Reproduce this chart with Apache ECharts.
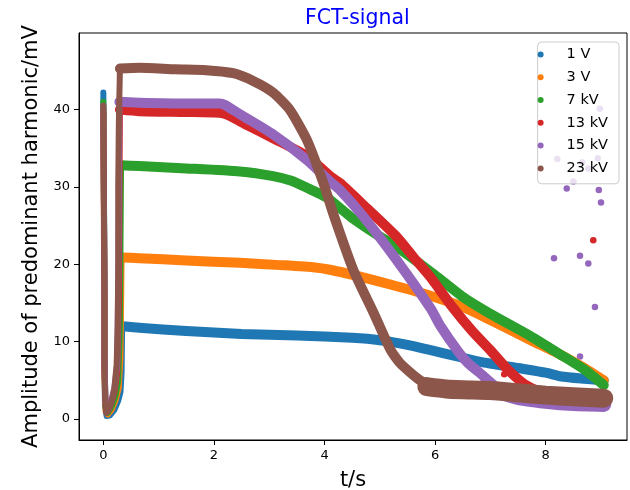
<!DOCTYPE html>
<html>
<head>
<meta charset="utf-8">
<title>FCT-signal</title>
<script src="https://cdn.jsdelivr.net/npm/echarts@6/dist/echarts.min.js"></script>
<style>
  html, body { margin: 0; padding: 0; background: #fff; }
  #chart { width: 630px; height: 490px; }
</style>
</head>
<body>
<div id="chart"></div>
<script>
// Series labels and colours
const seriesNames = ['1 V', '3 V', '7 kV', '13 kV', '15 kV', '23 kV'];
const seriesColors = ['#1f77b4', '#ff7f0e', '#2ca02c', '#d62728', '#9467bd', '#8c564b'];

// Tick positions
const xTicks = [0, 2, 4, 6, 8];
const yTicks = [0, 10, 20, 30, 40];

// Start-up transient [t/s, mV]: drop right after t = 0, recovery near t = 0.3 s
const rise1V  = [[0.0, 42.2], [0.01, 30], [0.02, 18], [0.02, 8], [0.03, 2], [0.06, 0.4], [0.12, 0.5], [0.2, 1.2], [0.27, 2.4], [0.31, 3.5], [0.33, 6], [0.34, 12.0]];
const rise3V  = [[0.0, 40.0], [0.01, 28], [0.02, 16], [0.02, 6], [0.04, 1], [0.08, 0.6], [0.15, 1.2], [0.22, 2.4], [0.28, 4], [0.31, 8], [0.32, 14], [0.33, 20.9]];
const rise7kV = [[0.0, 41.0], [0.01, 30], [0.02, 18], [0.02, 8], [0.04, 1.5], [0.08, 0.8], [0.15, 1.6], [0.22, 3], [0.27, 5], [0.3, 12], [0.31, 22], [0.32, 32.8]];
const rise13kV = [[0.0, 39.5], [0.01, 28], [0.02, 16], [0.02, 7], [0.04, 1.8], [0.08, 1.0], [0.14, 2], [0.2, 3.5], [0.25, 6], [0.28, 15], [0.29, 28], [0.3, 40.0]];
const rise15kV = [[0.0, 40.5], [0.01, 30], [0.02, 18], [0.02, 8], [0.04, 2], [0.08, 1.2], [0.14, 2.3], [0.2, 4], [0.25, 7], [0.27, 18], [0.28, 30], [0.29, 41.0]];
const rise23kV = [[0.0, 40.5], [0.01, 32], [0.01, 24], [0.02, 16], [0.02, 8], [0.03, 3], [0.05, 0.8], [0.1, 1.2], [0.15, 2.2], [0.2, 4], [0.24, 7], [0.26, 12], [0.27, 20], [0.27, 30], [0.28, 38], [0.3, 45.3]];

// Plateau and decay [t/s, mV]
const main1V = [[0.34, 12.0], [0.65, 11.8], [1.5, 11.4], [2.5, 11.0], [3.5, 10.8], [4.5, 10.5], [5.0, 10.2], [5.5, 9.6], [5.92, 8.9], [6.4, 8.1], [6.82, 7.4], [7.5, 6.6], [8.0, 6.0], [8.28, 5.5], [8.7, 5.2], [9.05, 5.0]];
const main3V = [[0.33, 20.9], [0.65, 20.8], [1.5, 20.5], [2.47, 20.2], [3.2, 19.9], [3.83, 19.6], [4.1, 19.3], [4.59, 18.5], [5.19, 17.4], [5.8, 16.2], [6.5, 14.5], [7.0, 12.8], [7.73, 10.2], [8.3, 8.2], [8.7, 6.6], [9.05, 5.0]];
const main7kV = [[0.32, 32.8], [0.65, 32.7], [1.5, 32.4], [2.47, 32.0], [3.07, 31.4], [3.4, 30.8], [3.68, 29.9], [4.05, 28.6], [4.5, 26.0], [5.0, 23.6], [5.3, 22.3], [6.0, 18.6], [6.5, 15.8], [7.0, 13.6], [7.73, 10.7], [8.3, 8.2], [8.7, 6.4], [9.05, 4.4]];
const main13kV = [[0.3, 40.0], [0.65, 39.8], [1.5, 39.7], [2.1, 39.6], [2.25, 39.3], [2.6, 38.0], [3.07, 36.3], [3.68, 34.0], [4.1, 31.4], [4.28, 30.5], [4.7, 27.7], [5.3, 23.6], [5.6, 21.0], [5.92, 18.3], [6.3, 14.6], [6.68, 11.3], [7.0, 8.9], [7.3, 6.5], [7.6, 4.6], [7.9, 3.5], [8.3, 3.0], [9.05, 2.7]];
const main15kV = [[0.29, 41.0], [0.65, 40.9], [1.5, 40.8], [2.1, 40.8], [2.2, 40.6], [2.47, 39.4], [3.07, 36.8], [3.68, 33.5], [4.1, 30.7], [4.28, 29.6], [4.7, 26.2], [5.3, 20.6], [5.92, 14.3], [6.1, 12.0], [6.4, 8.9], [6.6, 7.2], [6.82, 5.9], [7.1, 4.2], [7.5, 3.2]];
const main23kV = [[0.3, 45.3], [0.65, 45.4], [1.3, 45.2], [1.86, 45.1], [2.35, 44.7], [2.71, 43.7], [3.07, 42.2], [3.37, 40.0], [3.68, 36.1], [3.98, 30.5], [4.16, 26.5], [4.52, 19.3], [4.89, 13.7], [5.19, 9.0], [5.37, 7.2], [5.73, 5.0], [6.0, 4.2]];

// Noisy floor reached after the decay [t/s, mV]
const floor15kV = [[6.9, 4.2], [7.5, 2.8], [8.0, 2.3], [8.5, 2.0], [9.05, 1.9]];
const floor23kV = [[5.85, 4.2], [6.2, 3.9], [6.5, 3.8], [7.0, 3.7], [7.5, 3.4], [8.0, 3.1], [8.5, 2.9], [9.05, 2.7]];

// Isolated readings away from the curves [t/s, mV]
const stray13kV = [[8.86, 23.1], [7.25, 5.8]];
const stray15kV = [[8.21, 33.6], [8.66, 33.2], [8.94, 33.7], [8.77, 32.4], [8.5, 30.7], [8.38, 29.8], [8.96, 29.6], [9.0, 28.0], [8.15, 20.8], [8.62, 21.1], [8.77, 20.1], [8.89, 14.5], [8.98, 40.1], [8.62, 8.1], [8.7, 6.3]];

const riseData = [rise1V, rise3V, rise7kV, rise13kV, rise15kV, rise23kV];
const mainData = [main1V, main3V, main7kV, main13kV, main15kV, main23kV];
const floorData = [null, null, null, null, floor15kV, floor23kV];
const strayData = [null, null, null, stray13kV, stray15kV, null];

const FONT = 'DejaVu Sans';

function lineSeries(name, color, data, width, smooth) {
  return {
    name: name,
    type: 'line',
    data: data,
    showSymbol: false,
    symbol: 'circle',
    smooth: smooth,
    silent: true,
    animation: false,
    itemStyle: { color: color },
    lineStyle: { color: color, width: width, cap: 'round', join: 'round' }
  };
}

const series = [];
seriesNames.forEach(function (name, i) {
  const c = seriesColors[i];
  series.push(lineSeries(name, c, riseData[i], 6, false));
  series.push(lineSeries(name, c, mainData[i], 10, 0.2));
  if (floorData[i]) series.push(lineSeries(name, c, floorData[i], i === 5 ? 19 : 15, 0.2));
  if (strayData[i]) {
    series.push({
      name: name,
      type: 'scatter',
      data: strayData[i],
      symbol: 'circle',
      symbolSize: 6.5,
      silent: true,
      animation: false,
      itemStyle: { color: c, opacity: 1 }
    });
  }
});

const chart = echarts.init(document.getElementById('chart'), null, { renderer: 'canvas' });
chart.setOption({
  animation: false,
  backgroundColor: '#ffffff',
  textStyle: { fontFamily: FONT },
  title: {
    text: 'FCT-signal',
    left: 300,
    top: 3,
    textStyle: { color: '#0000ff', fontSize: 20.5, fontWeight: 'normal', fontFamily: FONT }
  },
  legend: {
    data: seriesNames.map(function (n, i) { return { name: n, icon: 'circle', itemStyle: { color: seriesColors[i] } }; }),
    orient: 'vertical',
    right: 11,
    top: 42,
    itemWidth: 42,
    itemHeight: 6,
    itemGap: 0,
    padding: [1, 11, 4, 0],
    backgroundColor: 'rgba(255,255,255,0.8)',
    borderColor: '#cccccc',
    borderWidth: 1,
    borderRadius: 4,
    selectedMode: false,
    textStyle: { fontSize: 14.5, color: '#000', fontFamily: FONT, lineHeight: 22.8 }
  },
  grid: {
    left: 79, right: 3, top: 33, bottom: 50,
    outerBoundsMode: 'none',
    containLabel: false,
    show: true, borderColor: '#000', borderWidth: 1, backgroundColor: 'transparent'
  },
  xAxis: {
    type: 'value',
    min: -0.44,
    max: 9.47,
    name: 't/s',
    nameLocation: 'middle',
    nameGap: 30,
    nameTextStyle: { fontSize: 21, color: '#000', fontFamily: FONT },
    axisLine: { show: true, onZero: false, lineStyle: { color: '#000', width: 1 } },
    axisTick: { show: true, length: 5, lineStyle: { color: '#000' }, customValues: xTicks },
    axisLabel: { color: '#000', fontSize: 13, margin: 9, fontFamily: FONT, customValues: xTicks },
    splitLine: { show: false }
  },
  yAxis: {
    type: 'value',
    min: -2.7,
    max: 49.9,
    name: 'Amplitude of predominant harmonic/mV',
    nameLocation: 'middle',
    nameGap: 37,
    nameRotate: 90,
    nameTextStyle: { fontSize: 21, color: '#000', fontFamily: FONT },
    axisLine: { show: true, onZero: false, lineStyle: { color: '#000', width: 1 } },
    axisTick: { show: true, length: 5, lineStyle: { color: '#000' }, customValues: yTicks },
    axisLabel: { color: '#000', fontSize: 13, margin: 9, fontFamily: FONT, customValues: yTicks },
    splitLine: { show: false }
  },
  series: series
});
</script>
</body>
</html>
